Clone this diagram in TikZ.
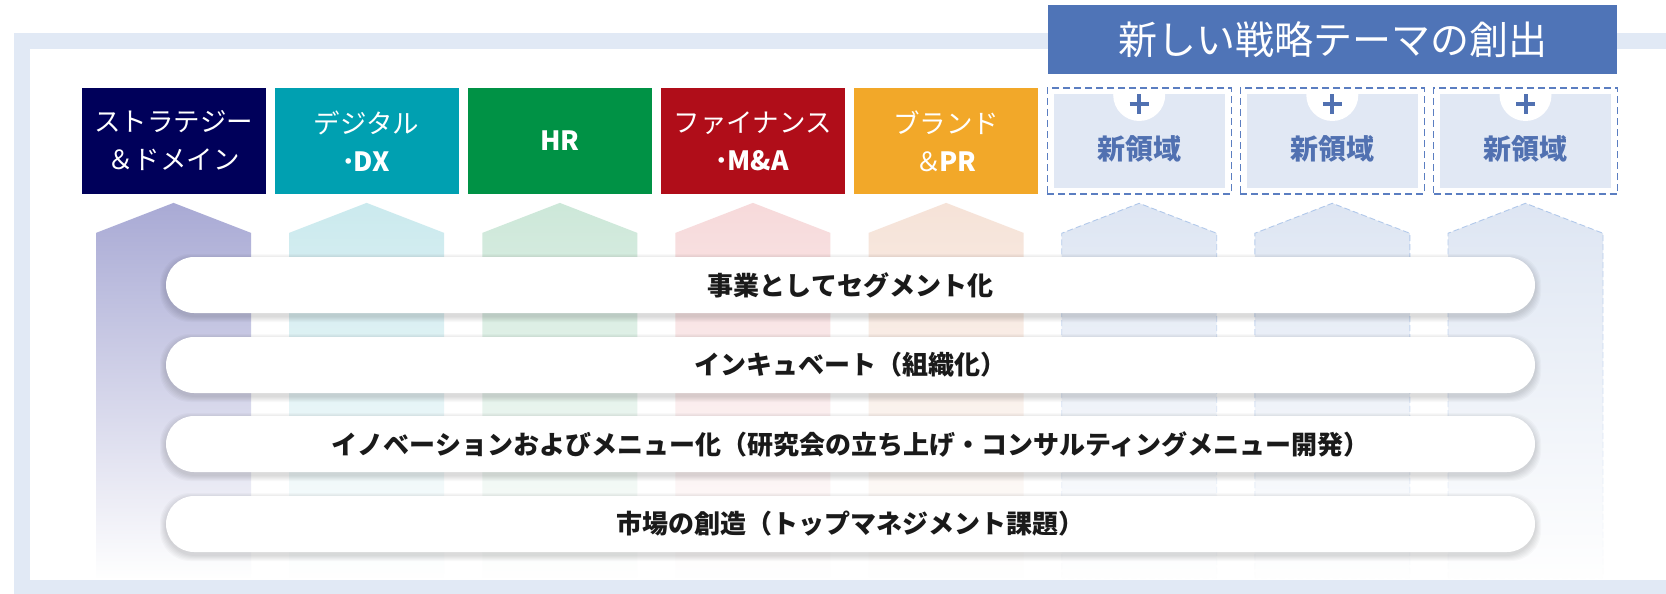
\documentclass[tikz,border=0pt]{standalone}
\usepackage{fontspec}
\setmainfont{Noto Sans CJK JP}
\usetikzlibrary{fadings}
\definecolor{framec}{HTML}{E1E9F5}
\definecolor{navyc}{HTML}{00005A}
\definecolor{tealc}{HTML}{00A0B1}
\definecolor{greenc}{HTML}{009245}
\definecolor{redc}{HTML}{B00D19}
\definecolor{orangec}{HTML}{F2A829}
\definecolor{titlec}{HTML}{4F74B7}
\definecolor{aone}{HTML}{A9AAD5}
\definecolor{atwo}{HTML}{CBEAEE}
\definecolor{athree}{HTML}{CDE8D9}
\definecolor{afour}{HTML}{F7DADB}
\definecolor{afive}{HTML}{F6E3D8}
\definecolor{anew}{HTML}{DEE6F3}
\definecolor{anewline}{HTML}{AFC7EA}
\definecolor{dashc}{HTML}{5B7EC1}
\definecolor{newfill}{HTML}{E1E8F4}
\definecolor{newtext}{HTML}{5171B1}
\definecolor{pilltext}{HTML}{1A1A1A}
\tikzfading[name=arrowfade, top color=transparent!0, middle color=transparent!20, bottom color=transparent!100]
\begin{document}
\begin{tikzpicture}[x=1pt,y=-1pt,
  catbox/.style={rectangle, minimum width=184pt, minimum height=106pt, inner sep=0pt, text=white, align=center, font=\fontsize{26.5}{38}\selectfont},
  newbox/.style={rectangle, draw=dashc, dash pattern=on 7pt off 4pt, line width=1.3pt, minimum width=184pt, minimum height=106pt, inner sep=0pt, fill=white},
  newlabel/.style={inner sep=0pt, text=newtext, font=\fontsize{28}{32}\selectfont\bfseries},
  pill/.style={rectangle, rounded corners=28pt, fill=white, minimum width=1369pt, minimum height=56pt, inner sep=0pt, text=pilltext, font=\fontsize{26}{30}\selectfont\bfseries},
  titlebox/.style={rectangle, fill=titlec, minimum width=569pt, minimum height=69pt, inner sep=0pt, text=white, font=\fontsize{39}{44}\selectfont},
  pillshadow/.style={black, opacity=0.022, rounded corners=30pt},
  plusline/.style={draw=newtext, line width=4pt}
]
\useasboundingbox (0,0) rectangle (1666,594);
% frame
\fill[framec] (14,33) rectangle (1700,620);
\fill[white] (30,49) rectangle (1700,580);
% title
\node[titlebox] (title) at (1332.75,39.5) {新しい戦略テーマの創出};
% category boxes
\node[catbox, fill=navyc] (b1) at (173.5,141) {ストラテジー\\＆ドメイン};
\node[catbox, fill=tealc] (b2) at (366.6,141) {デジタル\\\kern-.3em・\kern-.3em\textbf{DX}};
\node[catbox, fill=greenc, font=\fontsize{26.5}{30}\selectfont\bfseries] (b3) at (559.8,141) {HR};
\node[catbox, fill=redc] (b4) at (752.9,141) {ファイナンス\\\kern-.3em・\kern-.3em\textbf{M\&A}};
\node[catbox, fill=orangec] (b5) at (946.1,141) {ブランド\\＆\kern-.1em\textbf{PR}};
% new area boxes
\foreach \c/\n in {1139.2/n1, 1332.3/n2, 1525.5/n3}{
  \node[newbox] (\n) at (\c,141) {};
  \fill[newfill] ([shift={(7,7)}]\n.north west) rectangle ([shift={(-7,-7)}]\n.south east);
  \begin{scope}
    \clip ([shift={(7,7)}]\n.north west) rectangle ([shift={(-7,-7)}]\n.south east);
    \fill[white] (\c,95) circle[radius=26];
  \end{scope}
  \draw[plusline] (\c-9.5,104) -- (\c+9.5,104);
  \draw[plusline] (\c,94.5) -- (\c,113.5);
  \node[newlabel] (\n t) at (\c,149) {新領域};
}
% arrows
\foreach \c/\col in {173.5/aone, 366.6/atwo, 559.8/athree, 752.9/afour, 946.1/afive}{
  \fill[\col, path fading=arrowfade] (\c-77.5,578) -- (\c-77.5,233) -- (\c,203) -- (\c+77.5,233) -- (\c+77.5,578) -- cycle;
}
\foreach \c in {1139.2, 1332.3, 1525.5}{
  \path[fill=anew, draw=anewline, line width=0.9pt, dash pattern=on 6pt off 3pt, path fading=arrowfade] (\c-77.5,578) -- (\c-77.5,233) -- (\c,203) -- (\c+77.5,233) -- (\c+77.5,578) -- cycle;
}
% pill shadows
\foreach \y in {285,365,444,524}{
  \foreach \k in {1,2,3,4,5,6}{
    \fill[pillshadow] (166-\k,\y-28-\k+3) rectangle (1535+\k,\y+28+\k+3);
  }
}
% pills
\node[pill] (p1) at (850.5,285) {事業としてセグメント化};
\node[pill] (p2) at (850.5,365) {インキュベート（組織化）};
\node[pill] (p3) at (850.5,444) {イノベーションおよびメニュー化（研究会の立ち上げ・コンサルティングメニュー開発）};
\node[pill] (p4) at (850.5,524) {市場の創造（トップマネジメント課題）};
\end{tikzpicture}
\end{document}
